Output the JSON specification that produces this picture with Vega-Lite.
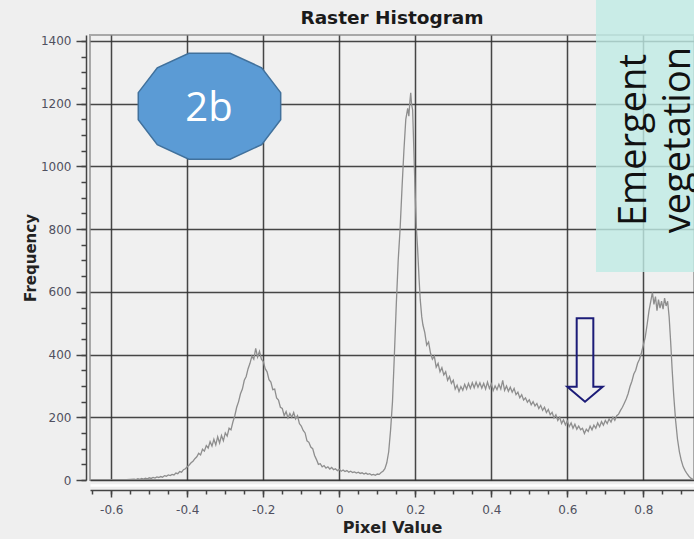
{
  "$schema": "https://vega.github.io/schema/vega-lite/v6.json",
  "width": 604,
  "height": 445,
  "autosize": {"type": "none"},
  "padding": {"left": 90, "top": 35, "right": 0, "bottom": 59},
  "background": "#efefef",
  "title": {"text": "Raster Histogram", "font": "DejaVu Sans", "fontSize": 18.5, "fontWeight": "bold", "color": "#1a1a1a", "anchor": "middle", "offset": -27},
  "config": {"view": {"fill": "#f0f0f0", "stroke": "#a8a8a8", "strokeWidth": 2}},
  "resolve": {"axis": {"x": "independent", "y": "independent"}},
  "layer": [
    {
      "data": {"values": [
        {"v":-0.656,"f":0},{"v":-0.64,"f":0},{"v":-0.62,"f":0},{"v":-0.6,"f":0},{"v":-0.58,"f":0},{"v":-0.56,"f":1},{"v":-0.55,"f":2},
        {"v":-0.54,"f":3},{"v":-0.535,"f":1},{"v":-0.53,"f":4},{"v":-0.525,"f":2},{"v":-0.52,"f":5},{"v":-0.515,"f":3},{"v":-0.51,"f":6},{"v":-0.505,"f":4},
        {"v":-0.5,"f":7},{"v":-0.495,"f":5},{"v":-0.49,"f":8},{"v":-0.485,"f":6},{"v":-0.48,"f":10},{"v":-0.475,"f":8},{"v":-0.47,"f":11},{"v":-0.465,"f":9},
        {"v":-0.46,"f":14},{"v":-0.455,"f":12},{"v":-0.45,"f":16},{"v":-0.445,"f":14},{"v":-0.44,"f":18},{"v":-0.435,"f":16},{"v":-0.43,"f":22},{"v":-0.425,"f":20},
        {"v":-0.42,"f":27},{"v":-0.415,"f":25},{"v":-0.41,"f":33},{"v":-0.405,"f":36},{"v":-0.4,"f":42},{"v":-0.395,"f":48},{"v":-0.39,"f":55},{"v":-0.385,"f":60},
        {"v":-0.38,"f":68},{"v":-0.375,"f":74},{"v":-0.37,"f":85},{"v":-0.365,"f":80},{"v":-0.36,"f":98},{"v":-0.355,"f":92},{"v":-0.35,"f":110},{"v":-0.345,"f":102},
        {"v":-0.34,"f":122},{"v":-0.335,"f":108},{"v":-0.33,"f":130},{"v":-0.325,"f":112},{"v":-0.32,"f":138},{"v":-0.315,"f":118},{"v":-0.31,"f":142},{"v":-0.305,"f":125},
        {"v":-0.3,"f":150},{"v":-0.295,"f":140},{"v":-0.29,"f":165},{"v":-0.285,"f":160},{"v":-0.28,"f":185},{"v":-0.275,"f":205},{"v":-0.27,"f":232},{"v":-0.265,"f":250},
        {"v":-0.26,"f":275},{"v":-0.255,"f":290},{"v":-0.25,"f":318},{"v":-0.245,"f":330},{"v":-0.24,"f":355},{"v":-0.235,"f":372},{"v":-0.23,"f":395},{"v":-0.225,"f":385},
        {"v":-0.22,"f":420},{"v":-0.215,"f":392},{"v":-0.21,"f":410},{"v":-0.205,"f":385},{"v":-0.2,"f":378},{"v":-0.195,"f":355},{"v":-0.19,"f":345},{"v":-0.185,"f":320},
        {"v":-0.18,"f":312},{"v":-0.175,"f":288},{"v":-0.17,"f":290},{"v":-0.165,"f":262},{"v":-0.16,"f":255},{"v":-0.155,"f":232},{"v":-0.15,"f":228},{"v":-0.145,"f":205},
        {"v":-0.14,"f":218},{"v":-0.135,"f":198},{"v":-0.13,"f":212},{"v":-0.125,"f":200},{"v":-0.12,"f":215},{"v":-0.115,"f":195},{"v":-0.11,"f":205},{"v":-0.105,"f":180},
        {"v":-0.1,"f":172},{"v":-0.095,"f":158},{"v":-0.09,"f":150},{"v":-0.085,"f":125},{"v":-0.08,"f":120},{"v":-0.075,"f":105},{"v":-0.07,"f":100},{"v":-0.065,"f":78},
        {"v":-0.06,"f":65},{"v":-0.055,"f":50},{"v":-0.05,"f":52},{"v":-0.045,"f":42},{"v":-0.04,"f":46},{"v":-0.035,"f":38},{"v":-0.03,"f":42},{"v":-0.025,"f":35},
        {"v":-0.02,"f":40},{"v":-0.015,"f":33},{"v":-0.01,"f":36},{"v":-0.005,"f":30},{"v":0,"f":34},{"v":0.005,"f":28},{"v":0.01,"f":32},{"v":0.015,"f":27},
        {"v":0.02,"f":30},{"v":0.025,"f":25},{"v":0.03,"f":28},{"v":0.035,"f":24},{"v":0.04,"f":26},{"v":0.045,"f":22},{"v":0.05,"f":25},{"v":0.055,"f":21},
        {"v":0.06,"f":23},{"v":0.065,"f":19},{"v":0.07,"f":22},{"v":0.075,"f":18},{"v":0.08,"f":20},{"v":0.085,"f":16},{"v":0.09,"f":18},{"v":0.095,"f":15},
        {"v":0.1,"f":19},{"v":0.105,"f":18},{"v":0.11,"f":24},{"v":0.115,"f":28},{"v":0.12,"f":36},{"v":0.125,"f":55},{"v":0.13,"f":90},{"v":0.135,"f":160},
        {"v":0.14,"f":250},{"v":0.145,"f":400},{"v":0.15,"f":560},{"v":0.155,"f":700},{"v":0.16,"f":800},{"v":0.165,"f":930},{"v":0.17,"f":1050},{"v":0.175,"f":1150},
        {"v":0.18,"f":1185},{"v":0.183,"f":1160},{"v":0.186,"f":1210},{"v":0.188,"f":1235},{"v":0.19,"f":1200},{"v":0.193,"f":1180},{"v":0.196,"f":1060},{"v":0.2,"f":900},
        {"v":0.203,"f":800},{"v":0.206,"f":740},{"v":0.21,"f":640},{"v":0.213,"f":575},{"v":0.217,"f":520},{"v":0.22,"f":495},{"v":0.225,"f":470},{"v":0.23,"f":430},
        {"v":0.235,"f":440},{"v":0.24,"f":405},{"v":0.245,"f":385},{"v":0.25,"f":395},{"v":0.255,"f":360},{"v":0.26,"f":372},{"v":0.265,"f":345},{"v":0.27,"f":358},
        {"v":0.275,"f":335},{"v":0.28,"f":345},{"v":0.285,"f":318},{"v":0.29,"f":330},{"v":0.295,"f":308},{"v":0.3,"f":318},{"v":0.305,"f":290},{"v":0.31,"f":302},
        {"v":0.315,"f":282},{"v":0.32,"f":298},{"v":0.325,"f":286},{"v":0.33,"f":305},{"v":0.335,"f":290},{"v":0.34,"f":308},{"v":0.345,"f":292},{"v":0.35,"f":310},
        {"v":0.355,"f":294},{"v":0.36,"f":312},{"v":0.365,"f":296},{"v":0.37,"f":310},{"v":0.375,"f":293},{"v":0.38,"f":308},{"v":0.385,"f":290},{"v":0.39,"f":312},
        {"v":0.395,"f":292},{"v":0.4,"f":306},{"v":0.405,"f":285},{"v":0.41,"f":300},{"v":0.415,"f":288},{"v":0.42,"f":305},{"v":0.425,"f":290},{"v":0.43,"f":318},
        {"v":0.435,"f":286},{"v":0.44,"f":300},{"v":0.445,"f":283},{"v":0.45,"f":296},{"v":0.455,"f":280},{"v":0.46,"f":292},{"v":0.465,"f":272},{"v":0.47,"f":280},
        {"v":0.475,"f":262},{"v":0.48,"f":272},{"v":0.485,"f":255},{"v":0.49,"f":262},{"v":0.495,"f":248},{"v":0.5,"f":256},{"v":0.505,"f":240},{"v":0.51,"f":250},
        {"v":0.515,"f":236},{"v":0.52,"f":244},{"v":0.525,"f":228},{"v":0.53,"f":238},{"v":0.535,"f":222},{"v":0.54,"f":232},{"v":0.545,"f":215},{"v":0.55,"f":225},
        {"v":0.555,"f":208},{"v":0.56,"f":216},{"v":0.565,"f":198},{"v":0.57,"f":208},{"v":0.575,"f":190},{"v":0.58,"f":200},{"v":0.585,"f":180},{"v":0.59,"f":192},
        {"v":0.595,"f":176},{"v":0.6,"f":188},{"v":0.605,"f":170},{"v":0.61,"f":182},{"v":0.615,"f":165},{"v":0.62,"f":178},{"v":0.625,"f":162},{"v":0.63,"f":172},
        {"v":0.635,"f":160},{"v":0.64,"f":165},{"v":0.645,"f":148},{"v":0.65,"f":162},{"v":0.655,"f":155},{"v":0.66,"f":172},{"v":0.665,"f":160},{"v":0.67,"f":175},
        {"v":0.675,"f":165},{"v":0.68,"f":182},{"v":0.685,"f":170},{"v":0.69,"f":186},{"v":0.695,"f":175},{"v":0.7,"f":190},{"v":0.705,"f":180},{"v":0.71,"f":195},
        {"v":0.715,"f":185},{"v":0.72,"f":200},{"v":0.725,"f":190},{"v":0.73,"f":205},{"v":0.735,"f":210},{"v":0.74,"f":222},{"v":0.745,"f":232},{"v":0.75,"f":245},
        {"v":0.755,"f":258},{"v":0.76,"f":275},{"v":0.765,"f":298},{"v":0.77,"f":315},{"v":0.775,"f":338},{"v":0.78,"f":350},{"v":0.785,"f":372},{"v":0.79,"f":385},
        {"v":0.795,"f":405},{"v":0.8,"f":430},{"v":0.805,"f":455},{"v":0.81,"f":495},{"v":0.815,"f":540},{"v":0.82,"f":572},{"v":0.824,"f":598},{"v":0.828,"f":560},
        {"v":0.832,"f":585},{"v":0.836,"f":540},{"v":0.84,"f":575},{"v":0.844,"f":548},{"v":0.848,"f":570},{"v":0.852,"f":545},{"v":0.856,"f":580},{"v":0.86,"f":555},
        {"v":0.864,"f":570},{"v":0.868,"f":520},{"v":0.872,"f":440},{"v":0.876,"f":350},{"v":0.88,"f":270},{"v":0.885,"f":190},{"v":0.89,"f":130},{"v":0.895,"f":90},
        {"v":0.9,"f":62},{"v":0.905,"f":42},{"v":0.91,"f":30},{"v":0.915,"f":20},{"v":0.92,"f":12},{"v":0.925,"f":6},{"v":0.93,"f":2},{"v":0.935,"f":0}
      ]},
      "mark": {"type": "line", "color": "#8e8e8e", "strokeWidth": 1.3, "clip": true},
      "encoding": {
        "x": {"field": "v", "type": "quantitative",
          "scale": {"domain": [-0.656, 0.9334], "nice": false, "zero": false},
          "axis": {"orient": "bottom", "values": [-0.6, -0.4, -0.2, 0, 0.2, 0.4, 0.6, 0.8], "labelExpr": "'' + datum.value",
            "offset": 10, "domainColor": "#444444", "domainWidth": 1.5, "tickColor": "#444444", "tickWidth": 1.5, "tickSize": 7,
            "labelFont": "DejaVu Sans", "labelFontSize": 12, "labelColor": "#505060", "labelPadding": 7, "labelFlush": false, "labelOverlap": false,
            "grid": true, "gridColor": "#333333", "gridWidth": 1.5, "gridOpacity": 0.9,
            "title": "Pixel Value", "titleFont": "DejaVu Sans", "titleFontSize": 16, "titleFontWeight": "bold", "titleColor": "#222222", "titlePadding": 4}},
        "y": {"field": "f", "type": "quantitative",
          "scale": {"domain": [0, 1419], "nice": false, "zero": false},
          "axis": {"orient": "left", "values": [0, 200, 400, 600, 800, 1000, 1200, 1400], "format": "d",
            "offset": 4, "domainColor": "#444444", "domainWidth": 1.5, "tickColor": "#444444", "tickWidth": 1.5, "tickSize": 10,
            "labelFont": "DejaVu Sans", "labelFontSize": 12, "labelColor": "#505060", "labelPadding": 5, "labelFlush": false, "labelOverlap": false,
            "grid": true, "gridColor": "#333333", "gridWidth": 1.5, "gridOpacity": 0.9,
            "title": "Frequency", "titleFont": "DejaVu Sans", "titleFontSize": 15, "titleFontWeight": "bold", "titleColor": "#222222", "titlePadding": 2}}
      }
    },
    {
      "data": {"values": [{"label": "Emergent vegetation"}]},
      "mark": {"type": "rect", "fill": "#bfebe5", "opacity": 0.8},
      "encoding": {
        "x": {"datum": 0.6755, "type": "quantitative",
          "scale": {"domain": [-0.656, 0.9334], "nice": false, "zero": false},
          "axis": {"orient": "bottom", "values": [-0.65, -0.6, -0.55, -0.5, -0.45, -0.4, -0.35, -0.3, -0.25, -0.2, -0.15, -0.1, -0.05, 0, 0.05, 0.1, 0.15, 0.2, 0.25, 0.3, 0.35, 0.4, 0.45, 0.5, 0.55, 0.6, 0.65, 0.7, 0.75, 0.8, 0.85, 0.9],
            "offset": 10, "domain": false, "labels": false, "grid": false, "ticks": true, "tickSize": 4, "tickColor": "#444444", "tickWidth": 1.5, "title": null}},
        "x2": {"datum": 0.9334},
        "y": {"datum": 663, "type": "quantitative",
          "scale": {"domain": [0, 1419], "nice": false, "zero": false},
          "axis": {"orient": "left", "values": [0, 50, 100, 150, 200, 250, 300, 350, 400, 450, 500, 550, 600, 650, 700, 750, 800, 850, 900, 950, 1000, 1050, 1100, 1150, 1200, 1250, 1300, 1350, 1400],
            "offset": 4, "domain": false, "labels": false, "grid": false, "ticks": true, "tickSize": 5, "tickColor": "#444444", "tickWidth": 1.5, "title": null}},
        "y2": {"datum": 1530.6}
      }
    },
    {
      "data": {"values": [{"label": "2b"}]},
      "mark": {"type": "point", "shape": "M -0.29 -0.744 L 0.29 -0.744 L 0.733 -0.54 L 1 -0.19 L 1 0.19 L 0.733 0.54 L 0.29 0.744 L -0.29 0.744 L -0.733 0.54 L -1 0.19 L -1 -0.19 L -0.733 -0.54 Z",
        "filled": true, "fill": "#5b9bd5", "stroke": "#41719c", "strokeWidth": 1.5, "opacity": 1, "size": 20278},
      "encoding": {
        "x": {"datum": -0.3416, "type": "quantitative",
          "scale": {"domain": [-0.656, 0.9334], "nice": false, "zero": false},
          "axis": {"orient": "bottom", "offset": 5, "domain": true, "domainColor": "#ffffff", "domainWidth": 2.5, "ticks": false, "labels": false, "grid": false, "title": null}},
        "y": {"datum": 1192, "type": "quantitative", "scale": {"domain": [0, 1419], "nice": false, "zero": false}, "axis": null}
      }
    },
    {
      "data": {"values": [{"label": "2b"}]},
      "mark": {"type": "text", "font": "Open Sans", "fontSize": 40, "color": "#ffffff", "align": "center", "baseline": "middle"},
      "encoding": {
        "text": {"field": "label"},
        "x": {"datum": -0.343, "type": "quantitative", "scale": {"domain": [-0.656, 0.9334], "nice": false, "zero": false}, "axis": null},
        "y": {"datum": 1183, "type": "quantitative", "scale": {"domain": [0, 1419], "nice": false, "zero": false}, "axis": null}
      }
    },
    {
      "data": {"values": [{"label": "arrow"}]},
      "mark": {"type": "point", "shape": "M -0.47 -2.356 L 0.47 -2.356 L 0.47 1.508 L 1 1.508 L 0 2.356 L -1 1.508 L -0.47 1.508 Z",
        "filled": false, "color": "#1c1c78", "strokeWidth": 2, "opacity": 1, "size": 1253},
      "encoding": {
        "x": {"datum": 0.6466, "type": "quantitative", "scale": {"domain": [-0.656, 0.9334], "nice": false, "zero": false}, "axis": null},
        "y": {"datum": 382.7, "type": "quantitative", "scale": {"domain": [0, 1419], "nice": false, "zero": false}, "axis": null}
      }
    },
    {
      "data": {"values": [{"label": "Emergent vegetation"}]},
      "mark": {"type": "text", "text": ["Emergent", "vegetation"], "font": "Open Sans", "fontSize": 38, "lineHeight": 44, "color": "#111111", "align": "center", "baseline": "alphabetic", "angle": 270},
      "encoding": {
        "x": {"datum": 0.8063, "type": "quantitative", "scale": {"domain": [-0.656, 0.9334], "nice": false, "zero": false}, "axis": null},
        "y": {"datum": 1084, "type": "quantitative", "scale": {"domain": [0, 1419], "nice": false, "zero": false}, "axis": null}
      }
    }
  ]
}
